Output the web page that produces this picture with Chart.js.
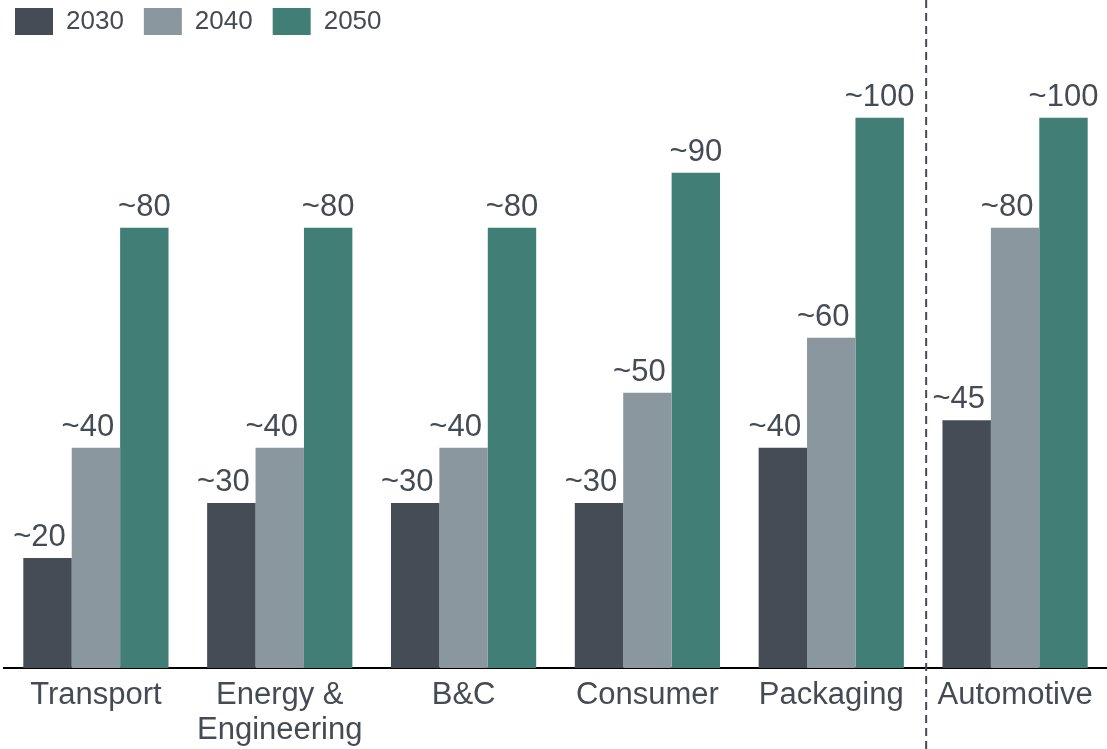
<!DOCTYPE html>
<html>
<head>
<meta charset="utf-8">
<script src="https://cdn.jsdelivr.net/npm/chart.js@4.4.1/dist/chart.umd.min.js"></script>
<style>
html,body{margin:0;padding:0;background:#fff;}
canvas{display:block;}
</style>
</head>
<body>
<canvas id="c" width="1107" height="749"></canvas>
<script>
const categories = ["Transport", ["Energy &", "Engineering"], "B&C", "Consumer", "Packaging", "Automotive"];
const seriesNames = ["2030", "2040", "2050"];
const values2030 = [20, 30, 30, 30, 40, 45];
const values2040 = [40, 40, 40, 50, 60, 80];
const values2050 = [80, 80, 80, 90, 100, 100];
const labels2030 = ["~20", "~30", "~30", "~30", "~40", "~45"];
const labels2040 = ["~40", "~40", "~40", "~50", "~60", "~80"];
const labels2050 = ["~80", "~80", "~80", "~90", "~100", "~100"];
const colors = ["#454c55", "#8a979f", "#417f76"];
const textColor = "#454b54";
const FONT = "'Liberation Sans', Arial, sans-serif";

const valueLabels = [labels2030, labels2040, labels2050];
const labelShift = [-8, -8, 0];

const barLabelPlugin = {
  id: 'barLabels',
  afterDatasetsDraw(chart) {
    const ctx = chart.ctx;
    ctx.save();
    ctx.font = "31px " + FONT;
    ctx.fillStyle = textColor;
    ctx.textAlign = "center";
    ctx.textBaseline = "alphabetic";
    chart.data.datasets.forEach((ds, i) => {
      const meta = chart.getDatasetMeta(i);
      meta.data.forEach((bar, j) => {
        ctx.fillText(valueLabels[i][j], bar.x + labelShift[i], bar.y - 12);
      });
    });
    ctx.restore();
  }
};

const legendShiftPlugin = {
  id: 'legendShift',
  afterLayout(chart) {
    if (chart.legend) {
      chart.legend.left -= 9;
      chart.legend.right -= 9;
    }
  }
};

const dividerPlugin = {
  id: 'divider',
  afterDraw(chart) {
    const x = chart.scales.x;
    const xp = (x.getPixelForValue(4) + x.getPixelForValue(5)) / 2 + 3;
    const ctx = chart.ctx;
    ctx.save();
    ctx.strokeStyle = textColor;
    ctx.lineWidth = 2;
    ctx.setLineDash([8, 5]);
    ctx.beginPath();
    ctx.moveTo(xp, 0);
    ctx.lineTo(xp, chart.height);
    ctx.stroke();
    ctx.restore();
  }
};

new Chart(document.getElementById('c'), {
  type: 'bar',
  data: {
    labels: categories,
    datasets: [
      { label: seriesNames[0], data: values2030, backgroundColor: colors[0] },
      { label: seriesNames[1], data: values2040, backgroundColor: colors[1] },
      { label: seriesNames[2], data: values2050, backgroundColor: colors[2] }
    ]
  },
  options: {
    responsive: false,
    animation: false,
    layout: { padding: { left: 4, right: 0, top: -12, bottom: 0 } },
    datasets: { bar: { categoryPercentage: 0.79, barPercentage: 1.0, borderWidth: 0 } },
    plugins: {
      legend: {
        position: 'top',
        align: 'start',
        labels: {
          boxWidth: 38,
          boxHeight: 27,
          padding: 20,
          color: textColor,
          font: { size: 26, family: FONT }
        }
      },
      tooltip: { enabled: false }
    },
    scales: {
      x: {
        grid: { display: false, drawTicks: false },
        border: { display: true, color: '#000', width: 2 },
        ticks: {
          color: textColor,
          font: { size: 31, family: FONT, lineHeight: 1.13 },
          padding: 10,
          maxRotation: 0,
          autoSkip: false
        },
        afterFit(scale) { scale.height = 81; }
      },
      y: {
        display: false,
        min: 0,
        max: 113.2
      }
    }
  },
  plugins: [legendShiftPlugin, barLabelPlugin, dividerPlugin]
});
</script>
</body>
</html>
